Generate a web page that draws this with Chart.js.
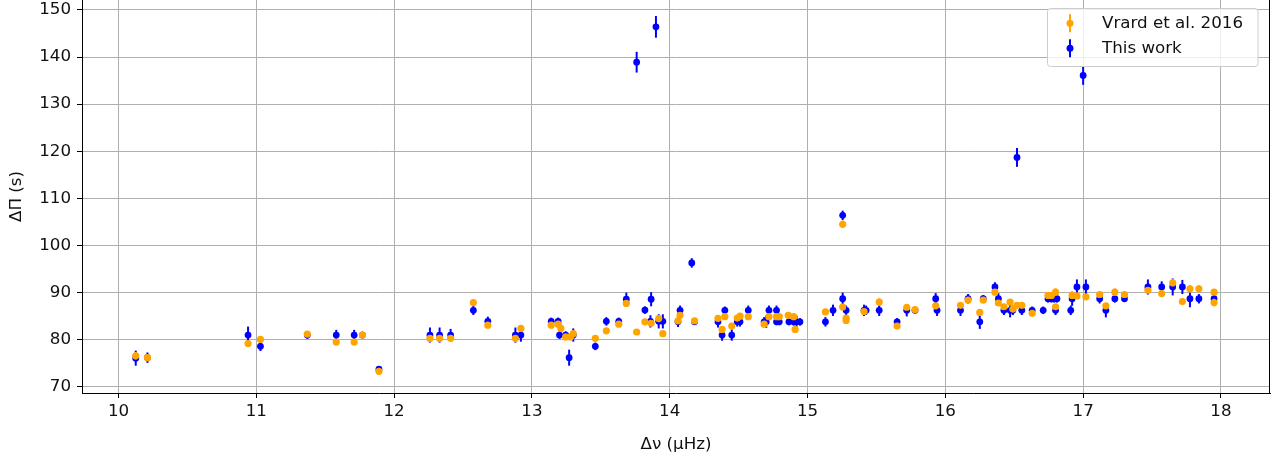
<!DOCTYPE html>
<html>
<head>
<meta charset="utf-8">
<script src="https://cdn.jsdelivr.net/npm/chart.js@4.4.1/dist/chart.umd.min.js"></script>
<style>
html,body{margin:0;padding:0;background:#fff;}
canvas{display:block;}
</style>
</head>
<body>
<canvas id="c" width="1277" height="457"></canvas>
<script>
// ---- Data ----
const seriesLabels = ["Vrard et al. 2016", "This work"];
const xTicks = [10, 11, 12, 13, 14, 15, 16, 17, 18];
const yTicks = [70, 80, 90, 100, 110, 120, 130, 140, 150];

// Vrard et al. 2016
const vrardX = [10.125,10.21,10.94,11.03,11.37,11.58,11.71,11.77,11.89,12.26,12.33,12.41,12.575,12.68,12.88,12.92,13.14,13.19,13.21,13.245,13.28,13.30,13.46,13.54,13.63,13.685,13.76,13.82,13.865,13.92,13.95,14.06,14.075,14.18,14.35,14.38,14.40,14.45,14.49,14.51,14.57,14.685,14.72,14.775,14.795,14.86,14.90,14.91,15.13,15.255,15.255,15.28,15.28,15.41,15.52,15.65,15.72,15.78,15.93,16.11,16.165,16.25,16.275,16.36,16.385,16.425,16.47,16.49,16.52,16.555,16.63,16.745,16.77,16.80,16.80,16.92,16.955,17.02,17.12,17.165,17.23,17.30,17.47,17.57,17.65,17.72,17.775,17.84,17.95,17.95];
const vrardY = [76.6,76.2,79.2,80.1,81.2,79.5,79.5,81.0,73.3,80.3,80.3,80.3,87.9,83.1,80.3,82.4,83.1,83.3,82.4,80.6,80.6,81.3,80.3,81.9,83.3,87.7,81.65,83.8,83.5,84.5,81.3,84.0,85.2,84.0,84.55,82.2,84.9,82.9,84.6,85.0,84.9,83.3,84.9,84.9,84.9,85.2,84.9,82.2,85.9,86.95,104.5,84.1,84.6,86.0,88.0,82.9,86.9,86.4,87.2,87.3,88.4,85.8,88.4,90.1,87.8,87.0,88.0,86.5,87.3,87.3,85.6,89.4,89.4,90.1,87.0,89.4,89.3,89.1,89.6,87.2,90.1,89.6,90.5,89.8,92.1,88.1,90.8,90.8,87.9,90.1];
const vrardErr = [0.8,0.6,0.6,0.6,0.6,0.6,0.6,0.6,0.6,0.6,0.6,0.6,0.6,0.6,0.6,0.6,0.6,0.6,0.6,0.6,0.6,0.6,0.6,0.6,0.6,0.6,0.6,0.6,0.6,0.6,0.6,0.6,0.6,0.6,0.6,0.6,0.6,0.6,0.6,0.6,0.6,0.6,0.6,0.6,0.6,0.6,0.6,0.6,0.6,0.6,0.8,0.6,0.6,0.6,0.8,0.6,0.6,0.6,0.6,0.6,0.6,0.6,0.6,0.6,0.6,0.6,0.6,0.6,0.6,0.6,0.6,0.6,0.6,0.8,0.6,0.6,0.6,0.6,0.6,0.6,0.8,0.6,0.6,0.6,0.8,0.6,0.8,0.8,0.8,0.6];

// This work
const workX = [10.125,10.21,10.94,11.03,11.37,11.58,11.71,11.77,11.89,12.26,12.33,12.41,12.575,12.68,12.88,12.92,13.14,13.19,13.20,13.245,13.27,13.30,13.46,13.54,13.63,13.685,13.76,13.82,13.865,13.86,13.90,13.92,13.95,14.06,14.075,14.16,14.18,14.35,14.38,14.40,14.45,14.49,14.51,14.57,14.685,14.70,14.72,14.775,14.775,14.795,14.865,14.90,14.92,14.945,15.13,15.185,15.255,15.255,15.28,15.41,15.425,15.52,15.65,15.72,15.78,15.93,15.94,16.11,16.165,16.25,16.275,16.36,16.385,16.425,16.47,16.49,16.52,16.555,16.63,16.71,16.745,16.77,16.79,16.81,16.80,16.91,16.92,16.955,17.0,17.02,17.12,17.165,17.23,17.30,17.47,17.57,17.65,17.72,17.775,17.84,17.95];
const workY = [76.1,76.2,81.0,78.6,81.0,81.0,81.0,81.0,73.75,81.0,81.0,81.0,86.25,83.9,81.0,81.0,83.9,83.9,81.0,81.0,76.2,81.0,78.6,83.9,83.9,88.6,138.9,86.3,88.6,83.9,146.4,83.9,83.9,83.8,86.25,96.3,83.8,83.8,81.0,86.25,81.0,83.8,83.8,86.25,83.8,83.8,86.25,86.25,83.8,83.8,83.8,83.8,83.8,83.8,83.8,86.25,88.7,106.4,86.25,86.25,86.25,86.25,83.8,86.25,86.25,88.7,86.25,86.25,88.7,83.8,88.7,91.2,88.7,86.25,86.25,86.25,118.7,86.25,86.25,86.25,88.7,88.7,88.7,88.7,86.25,86.25,88.7,91.2,136.1,91.2,88.7,86.25,88.7,88.7,91.2,91.2,91.2,91.2,88.7,88.7,88.7];
const workErr = [1.6,1.1,1.8,1.0,0.8,1.1,1.1,0.7,0.6,1.6,1.6,1.3,1.0,1.0,1.6,1.4,0.8,0.8,0.8,0.8,1.7,1.4,0.8,0.9,0.8,1.4,2.2,0.8,1.5,1.3,2.3,1.5,1.5,1.1,1.0,1.0,0.6,1.2,1.2,0.8,1.2,1.0,1.0,1.0,1.0,1.3,1.0,1.0,0.7,0.7,0.7,0.8,1.3,0.8,1.0,1.2,1.3,1.0,1.0,1.2,1.0,1.2,0.8,1.3,0.6,1.2,1.2,1.2,1.0,1.5,0.8,1.0,1.2,1.0,1.5,1.0,2.0,1.0,0.8,0.8,0.8,0.8,0.8,0.8,1.0,1.0,1.5,1.6,2.0,1.6,1.0,1.5,0.8,0.6,1.6,1.2,1.8,1.5,1.8,1.0,1.2];

const ORANGE = '#ffa500';
const BLUE = '#0000ff';
const FONT = 'DejaVu Sans';
const FS = 16.7;
const TXT = '#111111';

function pts(xs, ys){ return xs.map((x,i)=>({x:x, y:ys[i]})); }

// let the plot area reach the canvas top (markers are clipped to the plot area anyway)
const ScatterCtrl = Chart.registry.getController('scatter');
ScatterCtrl.prototype.getMaxOverflow = function(){ return 0; };

const errorBarPlugin = {
  id: 'errorBars',
  beforeDatasetDraw(chart, args){
    const ds = chart.data.datasets[args.index];
    if (!ds.errors) return;
    const xs = chart.scales.x, ys = chart.scales.y, ctx = chart.ctx, a = chart.chartArea;
    ctx.save();
    ctx.beginPath(); ctx.rect(a.left, a.top, a.right-a.left, a.bottom-a.top); ctx.clip();
    ctx.strokeStyle = ds.backgroundColor; ctx.lineWidth = 2;
    ds.data.forEach((p,i)=>{
      const e = ds.errors[i];
      const px = xs.getPixelForValue(p.x);
      ctx.beginPath();
      ctx.moveTo(px, ys.getPixelForValue(p.y - e));
      ctx.lineTo(px, ys.getPixelForValue(p.y + e));
      ctx.stroke();
    });
    ctx.restore();
  }
};

const framePlugin = {
  id: 'frame',
  afterDraw(chart){
    const ctx = chart.ctx, a = chart.chartArea;
    ctx.save();
    ctx.strokeStyle = '#000'; ctx.lineWidth = 1;
    const r = Math.round(a.right) - 0.5;
    ctx.beginPath(); ctx.moveTo(r, a.top); ctx.lineTo(r, a.bottom); ctx.stroke();
    // legend
    const lx = 1047.5, ly = 8.5, lw = 210.5, lh = 58;
    ctx.fillStyle = 'rgba(255,255,255,0.8)';
    ctx.strokeStyle = '#cccccc';
    ctx.beginPath();
    ctx.roundRect(lx, ly, lw, lh, 3);
    ctx.fill(); ctx.stroke();
    const rows = [23.3, 48.3];
    chart.data.datasets.forEach((ds, i)=>{
      const cy = rows[i], cx = 1070;
      ctx.strokeStyle = ds.backgroundColor; ctx.lineWidth = 2;
      ctx.beginPath(); ctx.moveTo(cx, cy-9); ctx.lineTo(cx, cy+9); ctx.stroke();
      ctx.fillStyle = ds.backgroundColor;
      ctx.beginPath(); ctx.arc(cx, cy, 3.5, 0, Math.PI*2); ctx.fill();
      ctx.fillStyle = TXT;
      ctx.font = FS + 'px "' + FONT + '"';
      ctx.textBaseline = 'middle'; ctx.textAlign = 'left';
      ctx.fillText(ds.label, 1102, cy);
    });
    ctx.restore();
  }
};

new Chart(document.getElementById('c'), {
  type: 'scatter',
  data: {
    datasets: [
      { label: seriesLabels[0], data: pts(vrardX, vrardY), errors: vrardErr,
        backgroundColor: ORANGE, borderColor: ORANGE, pointRadius: 3.6, borderWidth: 0 },
      { label: seriesLabels[1], data: pts(workX, workY), errors: workErr,
        backgroundColor: BLUE, borderColor: BLUE, pointRadius: 3.4, borderWidth: 0 }
    ]
  },
  options: {
    responsive: false,
    animation: false,
    devicePixelRatio: 1,
    layout: { padding: { top: 0, right: 7, left: 0, bottom: 0 } },
    plugins: { legend: { display: false }, tooltip: { enabled: false } },
    scales: {
      x: {
        type: 'linear', min: 9.735, max: 18.356,
        afterBuildTicks(s){ s.ticks = xTicks.map(v=>({value:v})); },
        afterFit(s){ s.height = 64; s.paddingLeft = 0; s.paddingRight = 0; },
        grid: { color: '#b0b0b0', lineWidth: 1, tickColor: '#000', tickLength: 5 },
        border: { display: true, color: '#000', width: 1 },
        ticks: { color: TXT, font: { family: FONT, size: FS }, padding: 4, maxRotation: 0 },
        title: { display: true, text: 'Δν (μHz)', color: TXT, font: { family: FONT, size: FS }, padding: { top: 0, bottom: 2 } }
      },
      y: {
        type: 'linear', min: 68.7, max: 152.1,
        afterBuildTicks(s){ s.ticks = yTicks.map(v=>({value:v})); },
        afterFit(s){ s.width = 82; s.paddingTop = 0; s.paddingBottom = 0; },
        grid: { color: '#b0b0b0', lineWidth: 1, tickColor: '#000', tickLength: 5 },
        border: { display: true, color: '#000', width: 1 },
        ticks: { color: TXT, font: { family: FONT, size: FS }, padding: 6 },
        title: { display: true, text: 'ΔΠ (s)', color: TXT, font: { family: FONT, size: FS }, padding: { top: 7, bottom: 0 } }
      }
    }
  },
  plugins: [errorBarPlugin, framePlugin]
});
</script>
</body>
</html>
